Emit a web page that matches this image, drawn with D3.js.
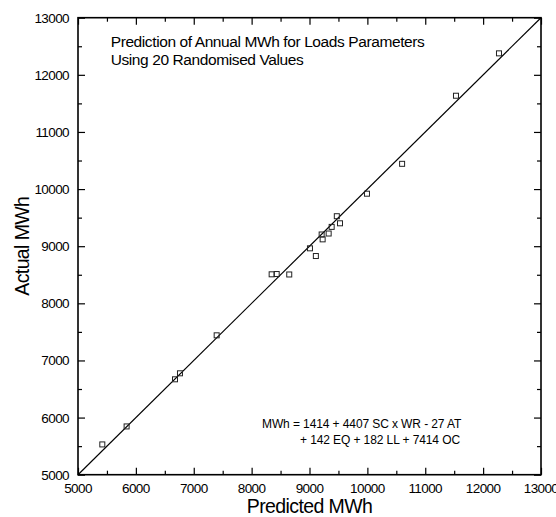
<!DOCTYPE html>
<html>
<head>
<meta charset="utf-8">
<script src="https://cdn.jsdelivr.net/npm/d3@7"></script>
<style>
  html, body { margin: 0; padding: 0; background: #fff; }
  svg { display: block; font-family: "Liberation Sans", Arial, sans-serif; }
</style>
</head>
<body>
<svg id="chart" width="556" height="517"></svg>
<script>
// Predicted vs actual annual MWh for 20 randomised load parameter sets
const predicted = [5420, 5840, 6676, 6762, 7396, 8346, 8433, 8650, 9008, 9110,
                   9210, 9227, 9331, 9383, 9472, 9527, 9993, 10600, 11531, 12274];
const actual    = [5530, 5845, 6670, 6775, 7440, 8508, 8513, 8505, 8963, 8828,
                   9205, 9120, 9222, 9338, 9525, 9401, 9919, 10442, 11634, 12376];

const xTicks = [5000, 6000, 7000, 8000, 9000, 10000, 11000, 12000, 13000];
const yTicks = [5000, 6000, 7000, 8000, 9000, 10000, 11000, 12000, 13000];
const minorTicks = [5500, 6500, 7500, 8500, 9500, 10500, 11500, 12500];

const titleLines = ["Prediction of Annual MWh for Loads Parameters",
                    "Using 20 Randomised Values"];
const equationLines = ["MWh = 1414 + 4407 SC x WR - 27 AT",
                       "+ 142 EQ + 182 LL + 7414 OC"];

const svg = d3.select("#chart");
const plotLeft = 78, plotRight = 541, plotTop = 17.7, plotBottom = 474.7;

const x = d3.scaleLinear().domain([5000, 13000]).range([plotLeft, plotRight]);
const y = d3.scaleLinear().domain([5000, 13000]).range([plotBottom, plotTop]);

const fmt = d3.format("d");

// Tick marks: major every 1000, minor every 500, all pointing inward
function drawTicks(axisGen, tx, ty) {
  const g = svg.append("g").attr("transform", `translate(${tx},${ty})`);
  g.call(axisGen);
  g.select(".domain").remove();
  g.selectAll("line").attr("stroke", "#000").attr("stroke-width", 1.2);
  g.selectAll("text").remove();
  return g;
}

drawTicks(d3.axisTop(x).tickValues(xTicks).tickSize(7), 0, plotBottom);
drawTicks(d3.axisTop(x).tickValues(minorTicks).tickSize(4), 0, plotBottom);
drawTicks(d3.axisBottom(x).tickValues(xTicks).tickSize(7), 0, plotTop);
drawTicks(d3.axisBottom(x).tickValues(minorTicks).tickSize(4), 0, plotTop);
drawTicks(d3.axisRight(y).tickValues(yTicks).tickSize(7), plotLeft, 0);
drawTicks(d3.axisRight(y).tickValues(minorTicks).tickSize(4), plotLeft, 0);
drawTicks(d3.axisLeft(y).tickValues(yTicks).tickSize(7), plotRight, 0);
drawTicks(d3.axisLeft(y).tickValues(minorTicks).tickSize(4), plotRight, 0);

// frame
svg.append("rect")
  .attr("x", plotLeft).attr("y", plotTop)
  .attr("width", plotRight - plotLeft).attr("height", plotBottom - plotTop)
  .attr("fill", "none").attr("stroke", "#000").attr("stroke-width", 1.6);

// tick labels
svg.append("g").selectAll("text").data(xTicks).join("text")
  .attr("x", d => x(d)).attr("y", plotBottom + 18.5)
  .attr("text-anchor", "middle")
  .attr("font-size", 13.5).attr("letter-spacing", -0.6)
  .text(fmt);

svg.append("g").selectAll("text").data(yTicks).join("text")
  .attr("x", plotLeft - 9).attr("y", d => y(d) + 5)
  .attr("text-anchor", "end")
  .attr("font-size", 13.5).attr("letter-spacing", -0.6)
  .text(fmt);

// axis titles
svg.append("text")
  .attr("x", (plotLeft + plotRight) / 2).attr("y", 513)
  .attr("text-anchor", "middle")
  .attr("font-size", 19.5).attr("letter-spacing", -0.6)
  .text("Predicted MWh");

svg.append("text")
  .attr("transform", `translate(29,${(plotTop + plotBottom) / 2}) rotate(-90)`)
  .attr("text-anchor", "middle")
  .attr("font-size", 19.5).attr("letter-spacing", -0.6)
  .text("Actual MWh");

// line of perfect agreement
svg.append("line")
  .attr("x1", x(5000)).attr("y1", y(5000))
  .attr("x2", x(13000)).attr("y2", y(13000))
  .attr("stroke", "#000").attr("stroke-width", 1.2);

// data markers
const pts = predicted.map((p, i) => ({ p, a: actual[i] }));
svg.append("g").selectAll("rect").data(pts).join("rect")
  .attr("x", d => x(d.p) - 2.5).attr("y", d => y(d.a) - 2.5)
  .attr("width", 5).attr("height", 5)
  .attr("fill", "none").attr("stroke", "#222").attr("stroke-width", 1);

// title
svg.append("g").selectAll("text").data(titleLines).join("text")
  .attr("x", 110.7).attr("y", (d, i) => 46.7 + i * 18.5)
  .attr("font-size", 15.5).attr("letter-spacing", -0.4)
  .text(d => d);

// regression equation
svg.append("g").selectAll("text").data(equationLines).join("text")
  .attr("x", (d, i) => i === 0 ? 262 : 300)
  .attr("y", (d, i) => 428 + i * 16)
  .attr("font-size", 12).attr("letter-spacing", -0.1)
  .text(d => d);
</script>
</body>
</html>
